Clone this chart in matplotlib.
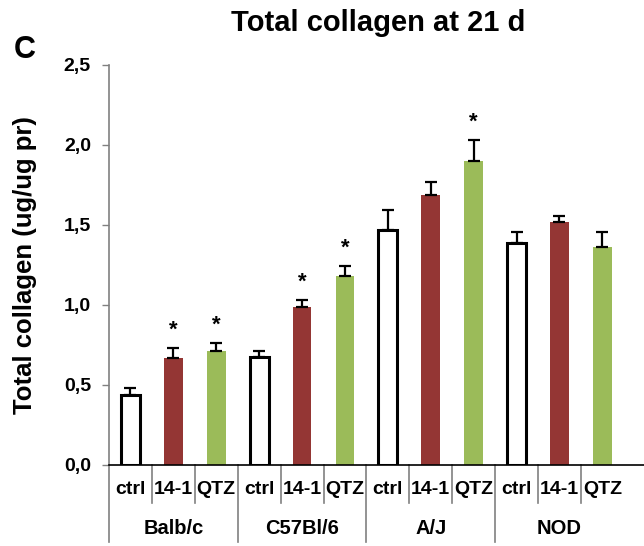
import numpy as np
import matplotlib
matplotlib.use("Agg")
import matplotlib.pyplot as plt

plt.rcParams["font.family"] = ["Liberation Sans", "DejaVu Sans"]
plt.rcParams["font.weight"] = "bold"

strains = ["Balb/c", "C57Bl/6", "A/J", "NOD"]
treatments = ["ctrl", "14-1", "QTZ"]
means = [0.436, 0.666, 0.710,
         0.672, 0.990, 1.182,
         1.466, 1.689, 1.900,
         1.390, 1.520, 1.365]
errors = [0.046, 0.065, 0.054,
          0.040, 0.042, 0.064,
          0.130, 0.079, 0.131,
          0.065, 0.035, 0.090]
signif = [False, True, True,
          False, True, True,
          False, False, True,
          False, False, False]
yticks = [0.0, 0.5, 1.0, 1.5, 2.0, 2.5]
ytick_labels = ["0,0", "0,5", "1,0", "1,5", "2,0", "2,5"]

red = "#943634"
green = "#9BBB59"
grey = "#808080"

fig = plt.figure(figsize=(6.44, 5.46), dpi=100)
ax = fig.add_axes([109 / 644, 81 / 546, 535 / 644, 400 / 546])

x = np.arange(len(means))
w = 0.44
for i, (m, e) in enumerate(zip(means, errors)):
    t = i % 3
    if t == 0:
        ax.bar(x[i], m, w, color="white", edgecolor="black", linewidth=2.2, zorder=2)
    else:
        ax.bar(x[i], m, w, color=red if t == 1 else green, linewidth=0, zorder=2)
    ax.errorbar(x[i], m, yerr=[[0], [e]], fmt="none", ecolor="black",
                elinewidth=1.6, capsize=4, capthick=1.6, zorder=3)
    if signif[i]:
        ax.text(x[i], m + e + 0.045, "*", ha="center", va="bottom",
                fontsize=16, color="black")

ax.set_xlim(-0.5, -0.5 + 535 / 42.9)
ax.set_ylim(0, 2.5)
ax.set_yticks(yticks)
ax.set_yticklabels(ytick_labels, fontsize=14, fontweight="bold")
ax.tick_params(axis="y", direction="out", length=5, width=1, color=grey, pad=8)
ax.set_xticks([])

for s in ["top", "right"]:
    ax.spines[s].set_visible(False)
ax.spines["left"].set_visible(False)
ax.spines["bottom"].set_color("black")
ax.spines["bottom"].set_linewidth(1.2)
ax.spines["bottom"].set_zorder(4)

# y axis line, extended down through the category table
ax.plot([-0.5, -0.5], [-0.48, 2.5], color=grey, lw=1.2, clip_on=False)

# category table under the axis
for i in range(1, len(means)):
    low = -0.48 if i % 3 == 0 else -0.24
    ax.plot([i - 0.5, i - 0.5], [0, low], color=grey, lw=1.2, clip_on=False)
for i in range(len(means)):
    ax.text(x[i], -0.155, treatments[i % 3], ha="center", va="center",
            fontsize=14, fontweight="bold")
for g, name in enumerate(strains):
    ax.text(3 * g + 1, -0.395, name, ha="center", va="center",
            fontsize=14.5, fontweight="bold")

ax.set_ylabel("Total collagen (ug/ug pr)", fontsize=18.5, fontweight="bold", labelpad=19)
fig.text(378 / 644, 1 - 23 / 546, "Total collagen at 21 d", ha="center", va="center",
         fontsize=21, fontweight="bold")
fig.text(25 / 644, 1 - 50 / 546, "C", ha="center", va="center",
         fontsize=22, fontweight="bold")

fig.savefig("out.png", dpi=100)
